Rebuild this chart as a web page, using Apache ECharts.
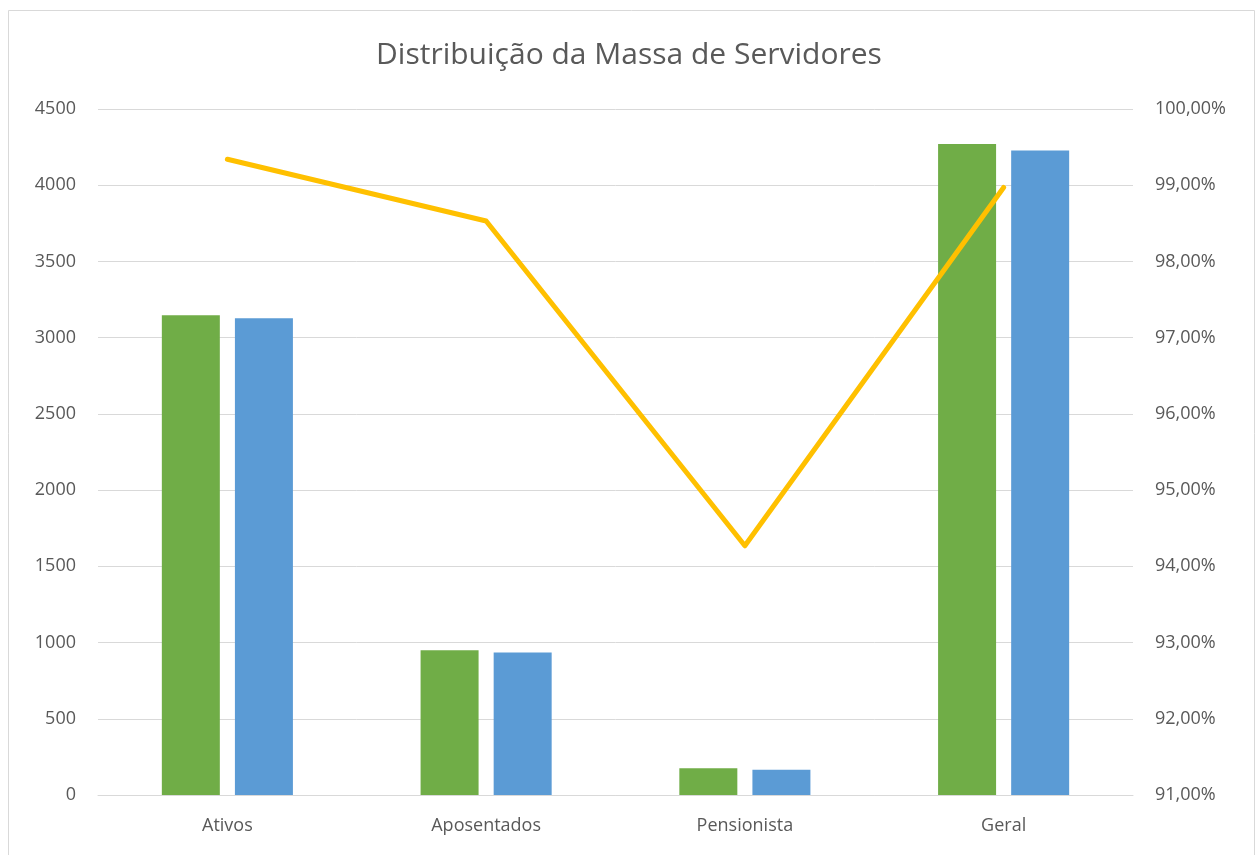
<!DOCTYPE html>
<html>
<head>
<meta charset="utf-8">
<script src="https://cdn.jsdelivr.net/npm/echarts@6/dist/echarts.min.js"></script>
<style>
html,body{margin:0;padding:0;background:#fff;}
#chart{width:1258px;height:855px;}
</style>
</head>
<body>
<div id="chart"></div>
<script>
const categories = ['Ativos', 'Aposentados', 'Pensionista', 'Geral'];
const totalValues = [3147, 949, 175, 4271];
const recadValues = [3127, 935, 165, 4227];
const percentValues = [0.9934, 0.9853, 0.9427, 0.9897];
const leftTicks = {min: 0, max: 4500, interval: 500};
const rightTicks = {min: 0.91, max: 1.0, interval: 0.01};

const FONT = '"Open Sans", "Liberation Sans", sans-serif';
const chart = echarts.init(document.getElementById('chart'), null, {renderer: 'canvas'});
chart.setOption({
  animation: false,
  backgroundColor: '#fff',
  title: {
    text: 'Distribuição da Massa de Servidores',
    left: 'center',
    top: 35,
    textStyle: {fontFamily: FONT, fontSize: 30, fontWeight: 'normal', color: '#595959'}
  },
  graphic: [{
    type: 'rect',
    shape: {x: 8.5, y: 10.5, width: 1246, height: 860},
    style: {fill: 'none', stroke: '#D9D9D9', lineWidth: 1},
    silent: true
  }],
  grid: {left: 98, right: 125, top: 109, bottom: 60, containLabel: false},
  xAxis: {
    type: 'category',
    data: categories,
    axisLine: {lineStyle: {color: '#D9D9D9', width: 1}},
    axisTick: {show: false},
    axisLabel: {fontFamily: FONT, fontSize: 18, color: '#595959', margin: 22}
  },
  yAxis: [{
    type: 'value',
    min: leftTicks.min, max: leftTicks.max, interval: leftTicks.interval,
    axisLine: {show: false}, axisTick: {show: false},
    splitLine: {lineStyle: {color: '#D9D9D9', width: 1}},
    axisLabel: {fontFamily: FONT, fontSize: 18, color: '#595959', margin: 22,
      formatter: v => String(v)}
  }, {
    type: 'value',
    min: rightTicks.min, max: rightTicks.max, interval: rightTicks.interval,
    axisLine: {show: false}, axisTick: {show: false},
    splitLine: {show: false},
    axisLabel: {
      fontFamily: FONT, fontSize: 18, color: '#595959', margin: 22,
      formatter: v => (v * 100).toFixed(2).replace('.', ',') + '%'
    }
  }],
  series: [{
    name: 'Total',
    type: 'bar',
    data: totalValues,
    barWidth: 58,
    barGap: '26%',
    itemStyle: {color: '#70AD47'}
  }, {
    name: 'Recadastrados',
    type: 'bar',
    data: recadValues,
    barWidth: 58,
    itemStyle: {color: '#5B9BD5'}
  }, {
    name: 'Percentual',
    type: 'line',
    yAxisIndex: 1,
    data: percentValues,
    symbol: 'none',
    lineStyle: {color: '#FFC000', width: 5, cap: 'round', join: 'round'},
    z: 5
  }]
});
</script>
</body>
</html>
